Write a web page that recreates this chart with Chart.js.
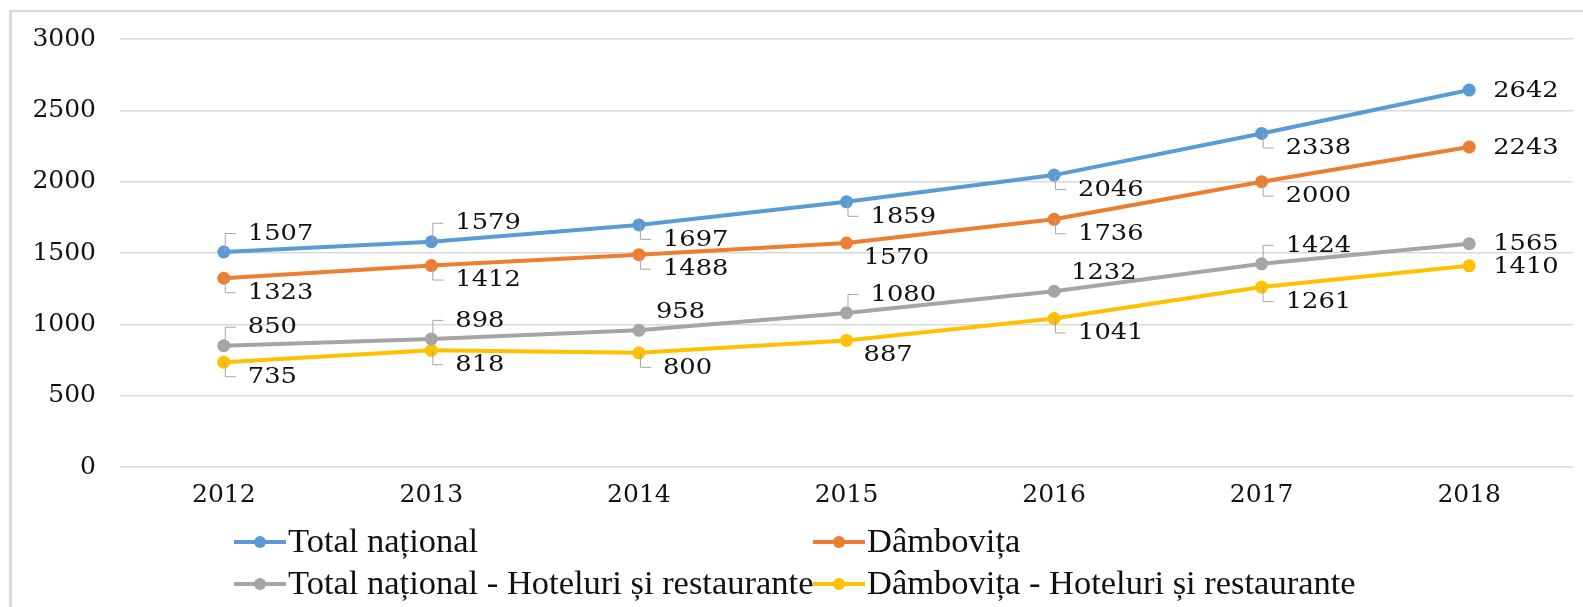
<!DOCTYPE html>
<html>
<head>
<meta charset="utf-8">
<script src="https://cdn.jsdelivr.net/npm/chart.js@4/dist/chart.umd.min.js"></script>
<style>
  html, body { margin: 0; padding: 0; background: #fff; }
  #wrap { position: relative; width: 1583px; height: 607px; overflow: hidden; }
  #frame {
    position: absolute; left: 9px; top: 10px; width: 1700px; height: 700px;
    border-left: 3px solid #d9d9d9; border-top: 2px solid #d9d9d9;
    pointer-events: none;
  }
  canvas { position: absolute; left: 0; top: 0; }
</style>
</head>
<body>
<div id="wrap">
  <canvas id="chart" width="1583" height="607" aria-label="Câștigul salarial"></canvas>
  <div id="frame"></div>
</div>
<script>
const years = ["2012", "2013", "2014", "2015", "2016", "2017", "2018"];
const totalNational = [1507, 1579, 1697, 1859, 2046, 2338, 2642];
const dambovita = [1323, 1412, 1488, 1570, 1736, 2000, 2243];
const totalHoreca = [850, 898, 958, 1080, 1232, 1424, 1565];
const dambovitaHoreca = [735, 818, 800, 887, 1041, 1261, 1410];
const seriesNames = [
  "Total național",
  "Dâmbovița",
  "Total național - Hoteluri și restaurante",
  "Dâmbovița - Hoteluri și restaurante",
];
const yMin = 0;
const yMax = 3000;
const yStep = 500;

// label placement: a/b = above/below with leader, A/B = no leader, r = right
const placement = [
  ["a", "a", "b", "b", "b", "b", "r"],
  ["b", "b", "b", "B", "b", "b", "r"],
  ["a", "a", "A", "a", "A", "a", "r"],
  ["b", "b", "b", "B", "b", "b", "r"],
];

const colors = ["#5B9BD5", "#ED7D31", "#A5A5A5", "#FFC000"];
const numFont = "22px 'DejaVu Serif'";
const axisFont = { family: "DejaVu Serif", size: 25 };

const dataLabels = {
  id: "dataLabels",
  afterDatasetsDraw(chart) {
    const ctx = chart.ctx;
    ctx.save();
    ctx.font = numFont;
    ctx.textBaseline = "middle";
    ctx.textAlign = "left";
    chart.data.datasets.forEach((ds, di) => {
      const meta = chart.getDatasetMeta(di);
      meta.data.forEach((pt, i) => {
        const code = placement[di][i];
        const text = String(ds.data[i]);
        let tx = pt.x + 24;
        let ty = pt.y;
        if (code === "a" || code === "A") ty = pt.y - 19;
        if (code === "b" || code === "B") ty = pt.y + 14;
        if (code === "A" || code === "B") tx = pt.x + 17;
        if (code === "a" || code === "b") {
          ctx.strokeStyle = "#a6a6a6";
          ctx.lineWidth = 1;
          ctx.beginPath();
          ctx.moveTo(pt.x + 1.5, pt.y);
          ctx.lineTo(pt.x + 1.5, ty + 0.5);
          ctx.lineTo(pt.x + 12, ty + 0.5);
          ctx.stroke();
        }
        ctx.save();
        ctx.translate(tx, ty + 1);
        ctx.scale(1.17, 1);
        ctx.fillStyle = "#111";
        ctx.fillText(text, 0, 0);
        ctx.restore();
      });
    });
    ctx.restore();
  },
};

const gridLegend = {
  id: "gridLegend",
  afterDraw(chart) {
    const ctx = chart.ctx;
    const colX = [234, 813];
    const rowY = [542, 584];
    ctx.save();
    ctx.font = "34.5px 'Liberation Serif'";
    ctx.textBaseline = "middle";
    chart.data.datasets.forEach((ds, i) => {
      const x = colX[i % 2];
      const y = rowY[Math.floor(i / 2)];
      ctx.strokeStyle = ds.borderColor;
      ctx.lineWidth = 4;
      ctx.beginPath();
      ctx.moveTo(x, y);
      ctx.lineTo(x + 52, y);
      ctx.stroke();
      ctx.fillStyle = ds.borderColor;
      ctx.beginPath();
      ctx.arc(x + 26, y, 6, 0, Math.PI * 2);
      ctx.fill();
      ctx.fillStyle = "#111";
      ctx.fillText(ds.label, x + 54, y + 1);
    });
    ctx.restore();
  },
};

const series = [totalNational, dambovita, totalHoreca, dambovitaHoreca];

new Chart(document.getElementById("chart"), {
  type: "line",
  data: {
    labels: years,
    datasets: series.map((values, i) => ({
      label: seriesNames[i],
      data: values,
      borderColor: colors[i],
      backgroundColor: colors[i],
      borderWidth: 4,
      pointRadius: 6.5,
      pointBorderWidth: 0,
      tension: 0,
    })),
  },
  options: {
    responsive: false,
    animation: false,
    devicePixelRatio: 1,
    layout: { padding: { top: 36, right: 10, left: 0, bottom: 0 } },
    plugins: {
      legend: { display: false },
      tooltip: { enabled: false },
    },
    scales: {
      x: {
        offset: true,
        grid: { display: false, drawTicks: false },
        border: { display: false },
        ticks: {
          font: axisFont,
          color: "#111",
          padding: 13,
        },
        afterFit(scale) { scale.height = 140; },
      },
      y: {
        min: yMin,
        max: yMax,
        grid: { color: "#d9d9d9", lineWidth: 1.5, drawTicks: false },
        border: { display: false },
        ticks: {
          stepSize: yStep,
          font: axisFont,
          color: "#111",
          padding: 24,
          callback: (v) => String(v),
        },
        afterFit(scale) { scale.width = 120; },
      },
    },
  },
  plugins: [dataLabels, gridLegend],
});
</script>
</body>
</html>
